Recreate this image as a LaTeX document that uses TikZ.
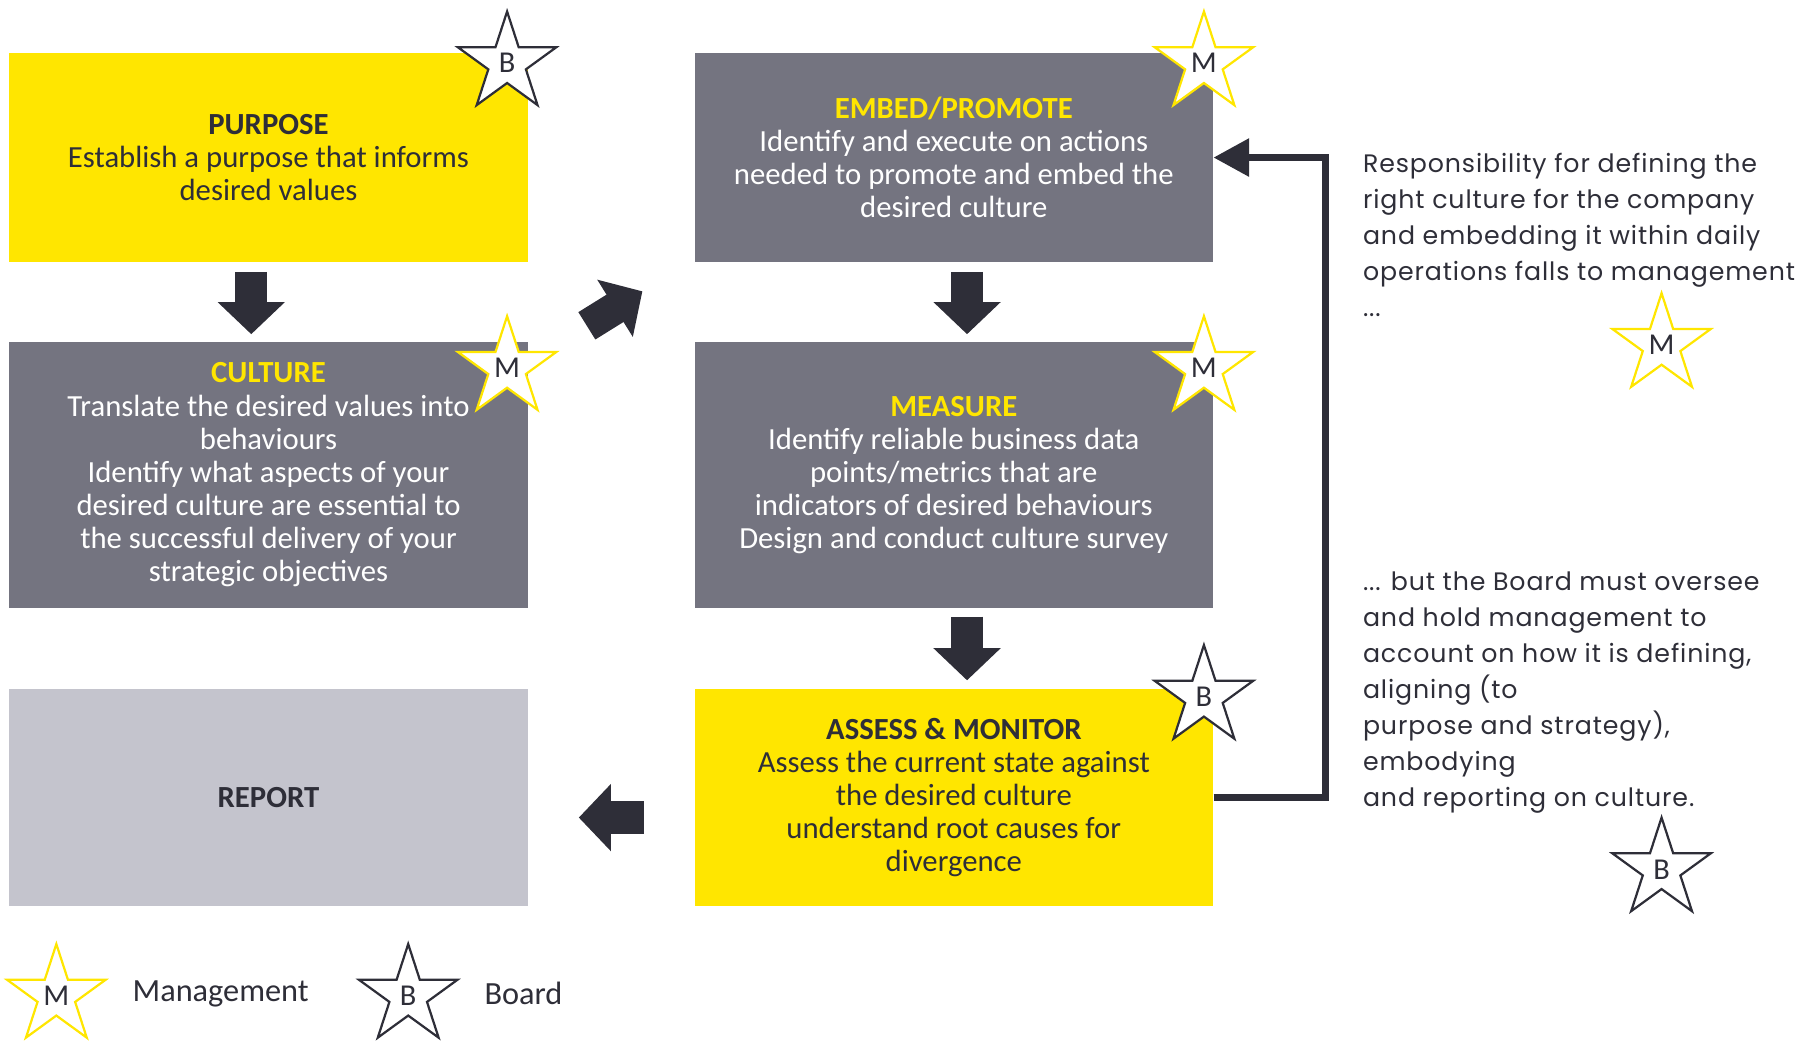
\documentclass[tikz,border=0pt]{standalone}
\usepackage{fontspec}
\setmainfont{Carlito}
\newfontfamily\widefont[LetterSpace=3.5]{Poppins}
\usepackage{xcolor}
\usepackage{tikz}
\usetikzlibrary{arrows.meta,positioning,calc,shapes.geometric}

\definecolor{eyyellow}{HTML}{FFE600}
\definecolor{eygray}{HTML}{747480}
\definecolor{eylight}{HTML}{C4C4CD}
\definecolor{eydark}{HTML}{2E2E38}

\begin{document}
\begin{tikzpicture}[x=0.2mm,y=-0.2mm,
  box/.style={rectangle,minimum width=90.2mm,inner sep=0pt,align=center,font=\fontsize{15.2}{16.4}\selectfont},
  ybox/.style={box,fill=eyyellow,text=eydark},
  gbox/.style={box,fill=eygray,text=white},
  mstar/.style={star,star points=5,star point ratio=2.618,minimum size=18mm,inner sep=0pt,
    draw=eyyellow,fill=white,line width=1.1pt,text=eydark,font=\fontsize{15}{15}\selectfont},
  bstar/.style={mstar,draw=eydark},
  blk/.style={draw=eydark,line width=5.6mm,-{Triangle[length=5.6mm,width=11.4mm]}},
  note/.style={anchor=north west,inner sep=0pt,align=left,text=eydark,font=\widefont\fontsize{12.5}{17.8}\selectfont},
  legtext/.style={anchor=west,inner sep=0pt,text=eydark,font=\fontsize{16}{16}\selectfont}]
 \useasboundingbox (0,0) rectangle (1568,906);
 % left column
 \node[ybox,minimum height=36.4mm] (purpose) at (233.5,137) {{\bfseries PURPOSE}\\Establish a purpose that informs\\desired values};
 \node[gbox,minimum height=46.4mm] (culture) at (233.5,413) {\textcolor{eyyellow}{\bfseries CULTURE}\\Translate the desired values into\\behaviours\\Identify what aspects of your\\desired culture are essential to\\the successful delivery of your\\strategic objectives};
 \node[box,fill=eylight,text=eydark,minimum height=37.8mm] (report) at (233.5,693.5) {\bfseries REPORT};
 % middle column
 \node[gbox,minimum height=36.4mm] (embed) at (829.5,137) {\textcolor{eyyellow}{\bfseries EMBED/PROMOTE}\\Identify and execute on actions\\needed to promote and embed the\\desired culture};
 \node[gbox,minimum height=46.4mm] (measure) at (829.5,413) {\textcolor{eyyellow}{\bfseries MEASURE}\\Identify reliable business data\\points/metrics that are\\indicators of desired behaviours\\Design and conduct culture survey};
 \node[ybox,minimum height=37.8mm] (assess) at (829.5,693.5) {{\bfseries ASSESS \& MONITOR}\\Assess the current state against\\the desired culture\\understand root causes for\\divergence};
 % stars
 \node[bstar] (sP) at (441,55) {B};
 \node[mstar] (sC) at (441,320) {M};
 \node[mstar] (sE) at (1047,55) {M};
 \node[mstar] (sM) at (1047,320) {M};
 \node[bstar] (sA) at (1047,606) {B};
 % block arrows
 \draw[blk] ($(purpose.south)+(-15,8)$) -- ($(culture.north)+(-15,-6)$);
 \draw[blk] ($(purpose.south east)+(51,55)$) -- ($(embed.south west)+(-45,25)$);
 \draw[blk] ($(embed.south)+(11.5,8)$) -- ($(measure.north)+(11.5,-6)$);
 \draw[blk] ($(measure.south)+(11.5,7)$) -- ($(assess.north)+(11.5,-7)$);
 \draw[blk] ($(assess.west)+(-44,17.5)$) -- ($(report.east)+(44,17.5)$);
 % feedback line
 \draw[draw=eydark,line width=1.2mm,-{Triangle[length=6.2mm,width=6.4mm]}]
   (assess.east) -- ++(97,0) |- (embed.east);
 % right notes
 \node[note] (n1) at (1185,133) {Responsibility for defining the\\right culture for the company\\and embedding it within daily\\operations falls to management\\...};
 \node[mstar] (sN1) at (1445,300) {M};
 \node[note] (n2) at (1185,497) {... but the Board must oversee\\and hold management to\\account on how it is defining,\\aligning (to\\purpose and strategy),\\embodying\\and reporting on culture.};
 \node[bstar] (sN2) at (1445,756) {B};
 % legend
 \node[mstar] (lM) at (49,866) {M};
 \node[legtext] (lMt) at (115,864) {Management};
 \node[bstar] (lB) at (355,866) {B};
 \node[legtext] (lBt) at (421,864) {Board};
\end{tikzpicture}
\end{document}
